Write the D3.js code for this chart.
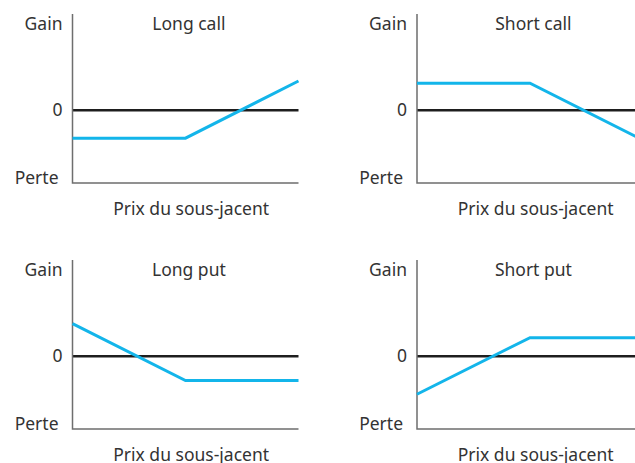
<!DOCTYPE html>
<html>
<head>
<meta charset="UTF-8">
<style>
  body { margin: 0; background: #ffffff; }
  svg text { font-family: "Noto Sans", sans-serif; font-size: 17.5px; fill: #333; }
</style>
<script src="https://cdn.jsdelivr.net/npm/d3@7"></script>
</head>
<body>
<svg id="chart" width="635" height="463"></svg>
<script>
// payoff profiles, x = prix du sous-jacent (0..10), y = gain/perte
var titles = ["Long call", "Short call", "Long put", "Short put"];
var priceX = [0, 5, 10];
var longCall = [-1, -1, 1.04];
var shortCall = [0.96, 0.96, -1.07];
var longPut = [1.16, -0.87, -0.87];
var shortPut = [-1.36, 0.66, 0.66];
var yLabels = ["Gain", "0", "Perte"];
var xLabel = "Prix du sous-jacent";

var series = [longCall, shortCall, longPut, shortPut];

var svg = d3.select("#chart");
var panelW = 226, panelH = 169;
var origins = [[72.5, 14], [417, 14], [72.5, 260], [417, 260]];

var x = d3.scaleLinear().domain([0, 10]).range([0, panelW]);
var y = d3.scaleLinear().domain([-2.6, 3.43]).range([panelH, 0]);

var line = d3.line()
    .x(function(d){ return x(d[0]); })
    .y(function(d){ return y(d[1]); });

series.forEach(function(vals, i){
    var g = svg.append("g")
        .attr("transform", "translate(" + origins[i][0] + "," + origins[i][1] + ")");

    // zero line
    g.append("line")
        .attr("x1", 0).attr("x2", x(10))
        .attr("y1", y(0)).attr("y2", y(0))
        .attr("stroke", "#1e1e1e").attr("stroke-width", 2.5);

    // axes
    g.append("path")
        .attr("d", "M0,0V" + panelH + "H" + x(10))
        .attr("fill", "none")
        .attr("stroke", "#6e6e6e").attr("stroke-width", 1.5);

    var pts = priceX.map(function(p, k){ return [p, vals[k]]; });
    g.append("path")
        .datum(pts)
        .attr("d", line)
        .attr("fill", "none")
        .attr("stroke", "#13b5ea")
        .attr("stroke-width", 3);

    // labels
    g.append("text").attr("x", -10).attr("y", 10).attr("dy", "0.35em")
        .attr("text-anchor", "end").text(yLabels[0]);
    g.append("text").attr("x", -10).attr("y", y(0)).attr("dy", "0.35em")
        .attr("text-anchor", "end").text(yLabels[1]);
    g.append("text").attr("x", -14).attr("y", panelH - 5).attr("dy", "0.35em")
        .attr("text-anchor", "end").text(yLabels[2]);
    g.append("text").attr("x", x(5.15)).attr("y", 10).attr("dy", "0.35em")
        .attr("text-anchor", "middle").text(titles[i]);
    g.append("text").attr("x", x(5.25)).attr("y", panelH + 26).attr("dy", "0.35em")
        .attr("text-anchor", "middle").text(xLabel);
});
</script>
</body>
</html>
